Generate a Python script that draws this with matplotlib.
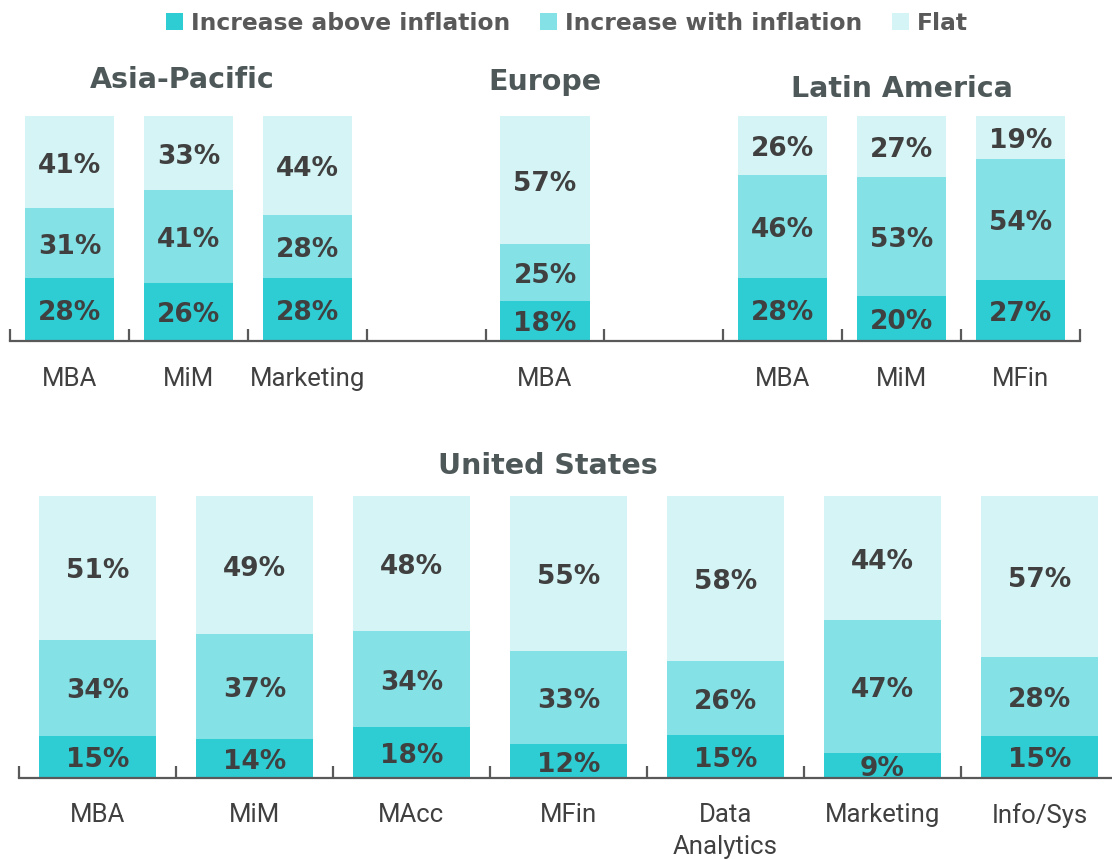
import matplotlib.pyplot as plt
from matplotlib.patches import Patch
import numpy as np

# Data
asia_cats = ["MBA", "MiM", "Marketing"]
asia_above = [28, 26, 28]
asia_with = [31, 41, 28]
asia_flat = [41, 33, 44]

europe_cats = ["MBA"]
europe_above = [18]
europe_with = [25]
europe_flat = [57]

latam_cats = ["MBA", "MiM", "MFin"]
latam_above = [28, 20, 27]
latam_with = [46, 53, 54]
latam_flat = [26, 27, 19]

us_cats = ["MBA", "MiM", "MAcc", "MFin", "Data\nAnalytics", "Marketing", "Info/Sys"]
us_above = [15, 14, 18, 12, 15, 9, 15]
us_with = [34, 37, 34, 33, 26, 47, 28]
us_flat = [51, 49, 48, 55, 58, 44, 57]

series_names = ["Increase above inflation", "Increase with inflation", "Flat"]
colors = ["#2ECCD3", "#84E1E6", "#D5F4F5"]

LABEL_FONT = ["Roboto", "DejaVu Sans"]
TEXT_DARK = "#404040"
TITLE_COLOR = "#4E5858"
AXIS_COLOR = "#595959"


def stacked(ax, x, above, with_infl, flat, width):
    """Draw one 100% stacked bar group with centered percentage labels."""
    raw = np.array([above, with_infl, flat], dtype=float)
    shares = raw / raw.sum(axis=0) * 100  # bars always fill to 100%
    bottom = np.zeros(len(x))
    for vals, labels, col in zip(shares, raw, colors):
        ax.bar(x, vals, bottom=bottom, width=width, color=col, edgecolor="none")
        for xi, b, v, lab in zip(x, bottom, vals, labels):
            ax.annotate(
                f"{int(lab)}%",
                xy=(xi, b + v / 2),
                xytext=(0, -2.5),
                textcoords="offset points",
                ha="center",
                va="center",
                fontsize=19,
                fontweight="bold",
                color=TEXT_DARK,
                family="DejaVu Sans",
            )
        bottom += vals


def style_axis(ax, n_slots, pad):
    for side in ["top", "left", "right"]:
        ax.spines[side].set_visible(False)
    ax.spines["bottom"].set_color(AXIS_COLOR)
    ax.spines["bottom"].set_linewidth(1.6)
    ax.set_yticks([])
    ax.set_ylim(0, 100)
    ax.set_xlim(-0.5, n_slots - 0.5)
    ax.set_xticks(np.arange(-0.5, n_slots, 1.0), minor=True)
    ax.tick_params(axis="x", which="minor", direction="in", length=9,
                   width=1.6, color=AXIS_COLOR)
    ax.tick_params(axis="x", which="major", length=0, pad=pad,
                   labelsize=18.5, labelcolor=TEXT_DARK)
    for lbl in ax.get_xticklabels():
        lbl.set_family(LABEL_FONT)


fig = plt.figure(figsize=(11.12, 8.59), dpi=100)

# Top row: Asia-Pacific, Europe, Latin America on one shared axis
ax_top = fig.add_axes([10 / 1112, 1 - 341 / 859, 1070 / 1112, 225 / 859])
asia_x = np.array([0, 1, 2])
europe_x = np.array([4])
latam_x = np.array([6, 7, 8])
w = 0.75
stacked(ax_top, asia_x, asia_above, asia_with, asia_flat, w)
stacked(ax_top, europe_x, europe_above, europe_with, europe_flat, w)
stacked(ax_top, latam_x, latam_above, latam_with, latam_flat, w)
ax_top.set_xticks(np.concatenate([asia_x, europe_x, latam_x]))
ax_top.set_xticklabels(asia_cats + europe_cats + latam_cats)
style_axis(ax_top, 9, pad=19)

title_kw = dict(ha="center", va="center", fontsize=20.5, fontweight="bold",
                color=TITLE_COLOR, transform=ax_top.get_xaxis_transform())
ax_top.text(asia_x.mean() - 0.05, 1.162, "Asia-Pacific", **title_kw)
ax_top.text(europe_x.mean(), 1.152, "Europe", **title_kw)
ax_top.text(latam_x.mean(), 1.122, "Latin America", **title_kw)

# Bottom row: United States
ax_us = fig.add_axes([19 / 1112, 1 - 778 / 859, 1099 / 1112, 282 / 859])
us_x = np.arange(len(us_cats))
stacked(ax_us, us_x, us_above, us_with, us_flat, w)
ax_us.set_xticks(us_x)
ax_us.set_xticklabels(us_cats, linespacing=1.4)
style_axis(ax_us, 7, pad=18)
ax_us.text(2.87, 1.106, "United States", ha="center", va="center",
           fontsize=20.5, fontweight="bold", color=TITLE_COLOR,
           transform=ax_us.get_xaxis_transform())

# Legend
handles = [Patch(facecolor=c, edgecolor="none") for c in colors]
leg = fig.legend(
    handles,
    series_names,
    loc="center",
    bbox_to_anchor=(567 / 1112, 1 - 23 / 859),
    ncol=3,
    frameon=False,
    handlelength=0.7,
    handleheight=0.7,
    handletextpad=0.35,
    columnspacing=1.3,
    prop={"size": 16.8, "weight": "bold", "family": "DejaVu Sans"},
)
for t in leg.get_texts():
    t.set_color("#595959")

fig.savefig("out.png", dpi=100)
